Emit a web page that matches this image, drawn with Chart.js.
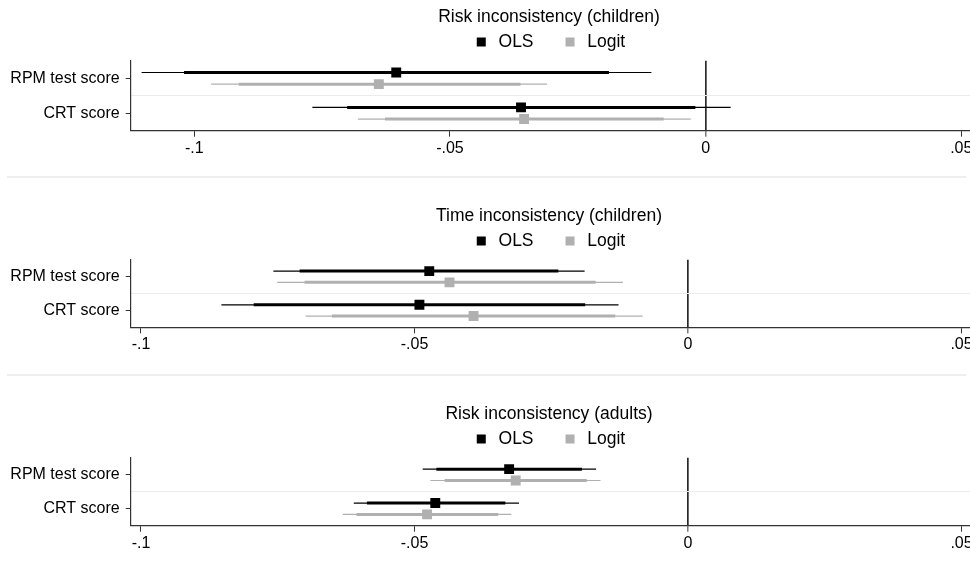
<!DOCTYPE html>
<html><head><meta charset="utf-8">
<script src="https://cdn.jsdelivr.net/npm/chart.js@4.4.1/dist/chart.umd.min.js"></script>
<style>
html,body{margin:0;padding:0;width:970px;height:571px;overflow:hidden;background:#fff;}
canvas.panel{position:absolute;left:0;}
.sep{position:absolute;left:7px;width:959px;height:2px;background:#eeeeee;}
</style></head><body>
<canvas id="p1" class="panel"></canvas>
<canvas id="p2" class="panel"></canvas>
<canvas id="p3" class="panel"></canvas>
<div class="sep" style="top:176px"></div>
<div class="sep" style="top:374px"></div>
<script>
// ---------- data ----------
const categories = ["RPM test score", "CRT score"];
const seriesNames = ["OLS", "Logit"];
const xTickValues = [-0.1, -0.05, 0, 0.05];
const xTickLabels = ["-.1", "-.05", "0", ".05"];
const panelTitles = ["Risk inconsistency (children)", "Time inconsistency (children)", "Risk inconsistency (adults)"];

// Panel 1: Risk inconsistency (children)
const riskChildOLS      = [-0.0605, -0.0361];
const riskChildOLSLo95  = [-0.1103, -0.0769];
const riskChildOLSHi95  = [-0.0106,  0.0049];
const riskChildOLSLo90  = [-0.1020, -0.0701];
const riskChildOLSHi90  = [-0.0189, -0.0020];
const riskChildLogit     = [-0.0639, -0.0355];
const riskChildLogitLo95 = [-0.0967, -0.0680];
const riskChildLogitHi95 = [-0.0310, -0.0029];
const riskChildLogitLo90 = [-0.0913, -0.0627];
const riskChildLogitHi90 = [-0.0362, -0.0082];

// Panel 2: Time inconsistency (children)
const timeChildOLS      = [-0.0473, -0.0491];
const timeChildOLSLo95  = [-0.0758, -0.0853];
const timeChildOLSHi95  = [-0.0189, -0.0127];
const timeChildOLSLo90  = [-0.0710, -0.0794];
const timeChildOLSHi90  = [-0.0237, -0.0188];
const timeChildLogit     = [-0.0436, -0.0392];
const timeChildLogitLo95 = [-0.0751, -0.0699];
const timeChildLogitHi95 = [-0.0119, -0.0083];
const timeChildLogitLo90 = [-0.0701, -0.0651];
const timeChildLogitHi90 = [-0.0169, -0.0133];

// Panel 3: Risk inconsistency (adults)
const riskAdultOLS      = [-0.0327, -0.0462];
const riskAdultOLSLo95  = [-0.0485, -0.0611];
const riskAdultOLSHi95  = [-0.0168, -0.0309];
const riskAdultOLSLo90  = [-0.0460, -0.0587];
const riskAdultOLSHi90  = [-0.0194, -0.0334];
const riskAdultLogit     = [-0.0315, -0.0477];
const riskAdultLogitLo95 = [-0.0471, -0.0631];
const riskAdultLogitHi95 = [-0.0160, -0.0323];
const riskAdultLogitLo90 = [-0.0445, -0.0606];
const riskAdultLogitHi90 = [-0.0185, -0.0347];

// ---------- styling / layout ----------
const FONT = "'Liberation Sans', Arial, Helvetica, sans-serif";
Chart.defaults.font.family = FONT;
Chart.defaults.color = '#000';
const seriesColors = ['#000000', '#b0b0b0'];
const seriesOffset = [-0.167, 0.167];
const AXIS = '#333333';
const CANVAS_W = 1098;

function catPos(i) { return i + 0.5; }

function buildPanel(id, title, pts, lo95, hi95, lo90, hi90, xmin, xmax, top, plotBottom, height) {
  const cv = document.getElementById(id);
  cv.width = CANVAS_W; cv.height = height;
  cv.style.width = CANVAS_W + 'px'; cv.style.height = height + 'px';
  cv.style.top = top + 'px';
  const datasets = [];
  seriesNames.forEach((name, s) => {
    datasets.push({
      label: name, isLegend: true, showLine: false,
      data: categories.map((c, i) => ({x: pts[s][i], y: catPos(i) + seriesOffset[s]})),
      pointStyle: 'rect', pointRadius: 7, pointHoverRadius: 7,
      pointBackgroundColor: seriesColors[s], backgroundColor: seriesColors[s],
      borderColor: seriesColors[s], pointBorderWidth: 0, borderWidth: 0
    });
  });
  seriesNames.forEach((name, s) => {
    categories.forEach((c, i) => {
      const y = catPos(i) + seriesOffset[s];
      datasets.push({
        label: name + ' 90% CI ' + c, showLine: true,
        data: [{x: lo90[s][i], y: y}, {x: hi90[s][i], y: y}],
        borderColor: seriesColors[s], backgroundColor: seriesColors[s],
        borderWidth: 3, pointRadius: 0, borderCapStyle: 'butt', fill: false
      });
      datasets.push({
        label: name + ' 95% CI ' + c, showLine: true,
        data: [{x: lo95[s][i], y: y}, {x: hi95[s][i], y: y}],
        borderColor: seriesColors[s], backgroundColor: seriesColors[s],
        borderWidth: 1.2, pointRadius: 0, borderCapStyle: 'butt', fill: false
      });
    });
  });
  const yTicks = [catPos(0), 1, catPos(1)];
  return new Chart(cv, {
    type: 'scatter',
    data: {datasets},
    options: {
      responsive: false, animation: false, devicePixelRatio: 1, events: [],
      layout: {padding: 0},
      plugins: {
        title: {
          display: true, text: title, color: '#000',
          font: {size: 17.5, weight: 'normal', lineHeight: 1.2},
          padding: {top: 7, bottom: -22.65}
        },
        legend: {
          display: true, position: 'top', align: 'center',
          labels: {
            usePointStyle: true, boxWidth: 17, boxHeight: 9, padding: 28,
            color: '#000', font: {size: 17.5},
            filter: (item, data) => data.datasets[item.datasetIndex].isLegend === true
          }
        },
        tooltip: {enabled: false}
      },
      scales: {
        x: {
          type: 'linear', min: xmin, max: xmax,
          afterBuildTicks: sc => { sc.ticks = xTickValues.map(v => ({value: v})); },
          afterFit: sc => { sc.height = height - plotBottom; sc.paddingLeft = 0; sc.paddingRight = 0; },
          ticks: {
            autoSkip: false, maxRotation: 0, padding: 2, color: '#000', font: {size: 16},
            callback: v => { const k = xTickValues.indexOf(v); return k >= 0 ? xTickLabels[k] : ''; }
          },
          grid: {
            drawOnChartArea: true, drawTicks: true, tickLength: 6, tickWidth: 1, tickColor: AXIS,
            color: ctx => (ctx.tick && ctx.tick.value === 0) ? '#2a2a2a' : 'rgba(0,0,0,0)',
            lineWidth: ctx => (ctx.tick && ctx.tick.value === 0) ? 1.7 : 1
          },
          border: {display: true, color: AXIS, width: 1.2}
        },
        y: {
          type: 'linear', min: 0, max: 2, reverse: true,
          afterBuildTicks: sc => { sc.ticks = yTicks.map(v => ({value: v})); },
          afterFit: sc => { sc.width = 130.7; sc.paddingTop = 0; sc.paddingBottom = 0; },
          ticks: {
            autoSkip: false, padding: 6, color: '#000', font: {size: 16},
            callback: v => { const k = [catPos(0), catPos(1)].indexOf(v); return k >= 0 ? categories[k] : ''; }
          },
          grid: {
            drawOnChartArea: true, drawTicks: true, tickLength: 5, tickWidth: 1,
            tickColor: ctx => (ctx.tick && ctx.tick.value === 1) ? 'rgba(0,0,0,0)' : AXIS,
            color: ctx => (ctx.tick && ctx.tick.value === 1) ? '#ebebeb' : 'rgba(0,0,0,0)',
            lineWidth: 1
          },
          border: {display: true, color: AXIS, width: 1.2}
        }
      }
    }
  });
}

buildPanel('p1', panelTitles[0],
  [riskChildOLS, riskChildLogit], [riskChildOLSLo95, riskChildLogitLo95], [riskChildOLSHi95, riskChildLogitHi95],
  [riskChildOLSLo90, riskChildLogitLo90], [riskChildOLSHi90, riskChildLogitHi90],
  -0.11243, 0.07537, 0, 130.7, 166);
buildPanel('p2', panelTitles[1],
  [timeChildOLS, timeChildLogit], [timeChildOLSLo95, timeChildLogitLo95], [timeChildOLSHi95, timeChildLogitHi95],
  [timeChildOLSLo90, timeChildLogitLo90], [timeChildOLSHi90, timeChildLogitHi90],
  -0.10188, 0.07367, 199, 128.3, 163);
buildPanel('p3', panelTitles[2],
  [riskAdultOLS, riskAdultLogit], [riskAdultOLSLo95, riskAdultLogitLo95], [riskAdultOLSHi95, riskAdultLogitHi95],
  [riskAdultOLSLo90, riskAdultLogitLo90], [riskAdultOLSHi90, riskAdultLogitHi90],
  -0.10188, 0.07367, 397, 128.7, 164);
</script>
</body></html>
